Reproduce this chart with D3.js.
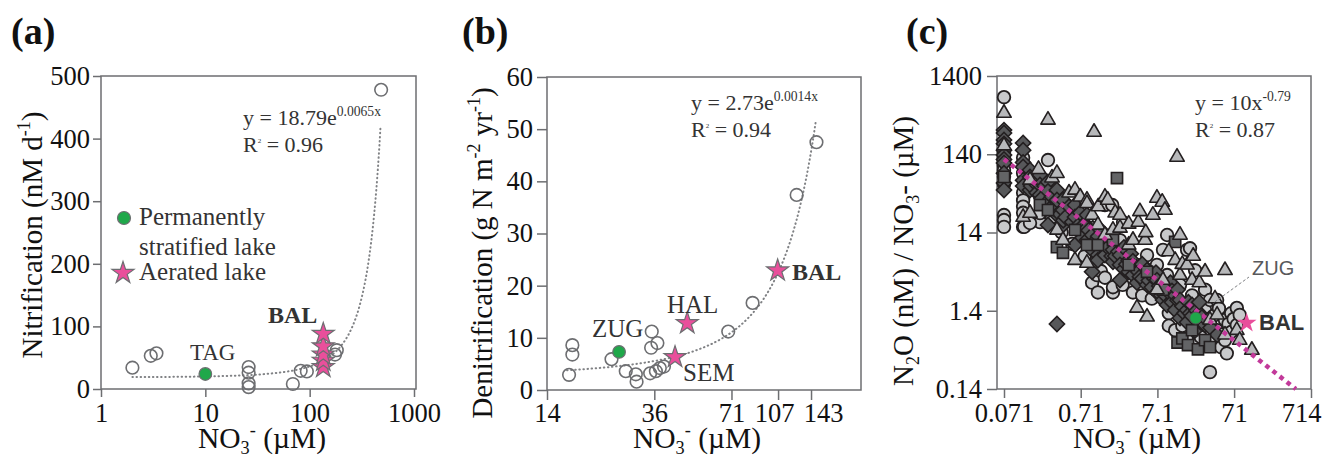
<!DOCTYPE html>
<html>
<head>
<meta charset="utf-8">
<script src="https://cdn.jsdelivr.net/npm/d3@7"></script>
<style>
  body { margin: 0; background: #fff; }
  svg { font-family: "Liberation Serif", "Times New Roman", serif; }
</style>
</head>
<body>
<svg width="1325" height="457"></svg>
<script>
// ---- panel (a): nitrification vs nitrate ----
const aCircles = [[2.0, 34], [3.0, 53], [3.4, 57], [26, 35], [26, 26], [26, 9], [26, 3],
    [69, 8], [82, 29], [94, 28], [175, 55], [182, 62], [484, 478]];
const aTAG = [[10, 24]];
const aBAL = [[135, 35], [135, 45], [135, 55], [135, 68], [135, 88]];
const aFit = { a: 18.79, b: 0.0065, x0: 2, x1: 478 };
const aXTicks = [1, 10, 100, 1000];
const aYTicks = [0, 100, 200, 300, 400, 500];

// ---- panel (b): denitrification vs nitrate ----
const bCircles = [[17.5, 8.6], [17.5, 6.8], [17.0, 2.9], [24.7, 5.9], [28.0, 3.6], [30.6, 3.0],
    [30.8, 1.6], [35.2, 11.2], [35.0, 8.1], [37.0, 9.0], [34.7, 3.2], [36.5, 3.6], [37.8, 4.2],
    [39.2, 4.5], [69.0, 11.2], [85.5, 16.7], [126, 37.4], [150, 47.5]];
const bZUG = [[26.4, 7.3]];
const bStars = [[43.2, 6.3], [48.1, 12.8], [106.6, 22.9]]; // SEM, HAL, BAL
const bFit = { a: 2.73, b: 0.0197, x0: 16.7, x1: 149 };
const bXTicks = [14, 36, 71, 107, 143];
const bYTicks = [0, 10, 20, 30, 40, 50, 60];

// ---- panel (c): N2O/NO3 ratio vs nitrate ----
const cCircles = [[0.071, 750], [0.071, 150], [0.071, 129], [0.071, 100], [0.071, 88], [0.071, 72],
    [0.071, 118], [0.071, 58], [0.071, 23.4], [0.071, 20.2], [0.071, 16.5], [0.126, 126], [0.126, 80],
    [0.126, 45], [0.126, 36], [0.126, 30], [0.126, 25], [0.126, 16.5], [0.13, 16.5], [0.209, 19],
    [0.155, 18.5], [0.209, 24.8], [0.266, 118], [0.266, 31.4], [0.3, 22], [0.348, 42.2], [0.4, 14],
    [0.417, 26], [0.55, 10], [0.598, 27.1], [0.8, 7], [0.857, 19], [1.0, 3.2], [1.0, 16], [1.16, 4.0],
    [1.19, 2.4], [1.3, 4.5], [1.47, 31.4], [1.47, 3.7], [1.87, 2.4], [1.87, 2.8], [1.83, 31.4],
    [2.31, 11.2], [2.5, 3.0], [2.53, 19], [3.0, 7.2], [3.41, 2.4], [3.84, 5.4], [4.5, 2.2], [5.2, 7.2],
    [6, 2.0], [7.0, 5.4], [8.4, 8.4], [9.5, 13], [9.5, 4.0], [10, 1.3], [10, 0.9], [12.1, 0.79],
    [14, 3.0], [15, 0.9], [17.3, 8.4], [17.3, 0.59], [18.9, 8.8], [20.1, 2.2], [22, 4.6], [22, 0.51],
    [25, 0.7], [26, 0.65], [29.7, 2.6], [29.7, 1.43], [34.4, 0.23], [34.4, 1.92], [38, 0.55],
    [38, 1.2], [42.6, 1.92], [42.6, 0.79], [45, 1.5], [48, 0.48], [50, 0.7], [54, 1.07], [54, 0.59],
    [57, 0.40], [60, 0.95], [65, 0.75], [65, 1.3], [70, 1.1], [77, 1.52], [77, 0.92], [84, 1.24]];
const cTriangles = [[0.071, 470], [0.071, 180], [0.126, 22], [0.155, 65.6], [0.155, 24.8], [0.2, 90],
    [0.266, 384], [0.3, 70], [0.348, 80], [0.348, 15.1], [0.417, 11.2], [0.5, 45], [0.598, 48.9],
    [0.598, 6.2], [0.7, 40], [0.857, 36.4], [0.857, 33], [0.857, 5.7], [1.06, 269], [1.0, 23.4],
    [1.19, 17.5], [1.2, 30], [1.47, 39.8], [1.47, 13], [1.6, 36.4], [1.87, 15.1], [2, 25], [2.31, 23.4],
    [2.31, 16], [3, 18], [3.0, 9.7], [3.41, 11.2], [3.84, 1.52], [4.0, 19], [4.2, 26], [4.9, 11.2],
    [5, 14], [5.2, 1.17], [6.2, 23.4], [7.0, 38.6], [7.0, 2.6], [8.2, 34.3], [8.4, 3.45], [8.9, 27.1],
    [10, 8], [12.1, 6.2], [12.8, 129], [14, 4.0], [14, 13], [15, 5.5], [17.3, 5.4], [20.1, 3.45],
    [20.8, 7.0], [25, 3.2], [29.7, 4.4], [34.4, 1.07], [40, 2.0], [42.6, 1.24], [54, 4.6], [54, 0.69],
    [77, 0.79], [84, 0.59], [121, 0.44]];
const cDiamonds = [[0.071, 285], [0.071, 262], [0.071, 213], [0.071, 190], [0.071, 158], [0.071, 137],
    [0.071, 120], [0.071, 108], [0.071, 80], [0.071, 60], [0.071, 49], [0.126, 195], [0.126, 158],
    [0.126, 110], [0.126, 96], [0.126, 65], [0.126, 55], [0.155, 88], [0.155, 72], [0.155, 48.9],
    [0.16, 55], [0.18, 60], [0.19, 45], [0.209, 76], [0.209, 56.6], [0.209, 42.2], [0.22, 38],
    [0.24, 55], [0.25, 33], [0.266, 62], [0.266, 47], [0.266, 17.5], [0.28, 28], [0.3, 40], [0.33, 30],
    [0.348, 48.9], [0.348, 36.4], [0.348, 23.4], [0.348, 0.95], [0.38, 24], [0.417, 36.4],
    [0.417, 27.1], [0.417, 17.5], [0.42, 20], [0.45, 22], [0.5, 30], [0.55, 19], [0.598, 31.4],
    [0.598, 22.1], [0.598, 9.7], [0.65, 17], [0.7, 25], [0.7, 14], [0.75, 12], [0.8, 18],
    [0.857, 23.4], [0.857, 16], [0.857, 11.2], [0.9, 15], [1.0, 13], [1.0, 8.4], [1.0, 4.4], [1.1, 11],
    [1.19, 7.2], [1.19, 6.2], [1.2, 12.5], [1.3, 10], [1.3, 15], [1.4, 9], [1.47, 11.2], [1.47, 7.2],
    [1.6, 9], [1.7, 12], [1.8, 7], [1.87, 8.4], [1.87, 5.9], [2.0, 7], [2.2, 8], [2.31, 7.2], [2.31, 5.4],
    [2.31, 3.45], [2.6, 9], [2.6, 4.8], [2.8, 5.5], [3.0, 6.2], [3.0, 4.4], [3.2, 7.5], [3.4, 6],
    [3.41, 4.0], [3.8, 5], [3.84, 3.2], [4, 4.4], [4.2, 3.8], [4.5, 5.5], [4.5, 3.6], [5.2, 4.6],
    [5.2, 3.0], [5.5, 3.4], [6, 4.2], [6, 2.8], [6.5, 3.6], [6.8, 4.3], [7.0, 3.45], [7.0, 2.4],
    [7.5, 2.9], [8, 2.2], [8.4, 2.6], [8.4, 1.92], [9, 3.0], [9, 2.2], [9.5, 1.66], [10.5, 2.3],
    [10.5, 3.2], [11, 1.8], [11, 2.5], [12.1, 2.2], [12.1, 1.43], [13, 1.9], [13, 2.6], [14, 1.92],
    [14, 1.13], [15, 1.6], [16, 1.3], [17.3, 1.43], [17.3, 1.0], [18, 1.8], [19, 1.3], [20, 1.2],
    [20.1, 1.66], [22, 0.79], [23, 1.4], [25, 1.3], [25, 1.8], [26, 1.0], [27, 1.15], [29.7, 0.92],
    [32, 1.05], [35, 0.85], [42.6, 0.69]];
const cSquares = [[0.071, 72], [0.209, 31.4], [0.266, 27.1], [0.348, 9.1], [0.417, 7.7], [0.598, 15.1],
    [0.857, 9.7], [1.19, 9.7], [1.87, 11.2], [2.11, 69.5], [3.0, 5.4], [5.2, 4.4], [8.4, 2.6],
    [12.1, 10.6], [13, 0.55], [15, 0.62], [17.8, 0.51], [20.1, 0.79], [24, 0.45], [29.7, 0.59],
    [34.4, 0.48]];
const cZUG = [[22.4, 1.13]];
const cBAL = [[103.6, 0.975]];
const cFit = { a: 15.7, b: -0.772, x0: 0.071, x1: 453 };
const cXTicks = [0.071, 0.71, 7.1, 71, 714];
const cYTicks = [0.14, 1.4, 14, 140, 1400];

const svg = d3.select('svg');
const frameColor = '#6d6e71';
const pink = '#e94f9b';
const green = '#1fa84a';

// text with sub/superscripts: parts = [[text, 'n'|'sub'|'sup'], ...]
function rich(text, parts, fs, small) {
    let cur = 0;
    parts.forEach(([t, k]) => {
        const off = k === 'sub' ? fs * 0.22 : k === 'sup' ? -fs * 0.42 : 0;
        text.append('tspan')
            .attr('dy', off - cur)
            .attr('font-size', k === 'n' ? fs : (small || fs * 0.62))
            .text(t);
        cur = off;
    });
}

function frame(box) {
    svg.append('rect')
        .attr('x', box.x).attr('y', box.y)
        .attr('width', box.w).attr('height', box.h)
        .attr('fill', 'none')
        .attr('stroke', frameColor)
        .attr('stroke-width', 1.5);
}

function axes(xScale, yScale, box, xTicks, yTicks, opt) {
    const xAxis = svg.append('g')
        .attr('transform', `translate(0, ${box.y + box.h})`)
        .call(d3.axisBottom(xScale).tickValues(xTicks).tickFormat((d) => d)
            .tickSize(opt.xTick).tickPadding(opt.xPad));
    const yAxis = svg.append('g')
        .attr('transform', `translate(${box.x}, 0)`)
        .call(d3.axisLeft(yScale).tickValues(yTicks).tickFormat((d) => d)
            .tickSize(opt.yTick).tickPadding(opt.yPad));
    [xAxis, yAxis].forEach((g) => {
        g.select('.domain').remove();
        g.selectAll('.tick line').attr('stroke', frameColor).attr('stroke-width', 1.5);
        g.selectAll('.tick text')
            .attr('fill', '#111')
            .attr('font-size', 26.5)
            .attr('font-family', '"Liberation Serif", serif');
    });
    return xAxis;
}

function xTitle(cx) {
    const t = svg.append('text')
        .attr('x', cx).attr('y', 448)
        .attr('text-anchor', 'middle')
        .attr('fill', '#111');
    rich(t, [['NO', 'n'], ['3', 'sub'], ['-', 'sup'], [' (\u00b5M)', 'n']], 29.5);
}

function yTitle(x, cy, parts) {
    const t = svg.append('text')
        .attr('transform', `translate(${x}, ${cy}) rotate(-90)`)
        .attr('text-anchor', 'middle')
        .attr('fill', '#111');
    rich(t, parts, 29);
}

function panelLabel(x, s) {
    svg.append('text')
        .attr('x', x).attr('y', 44)
        .attr('font-size', 38)
        .attr('font-weight', 'bold')
        .attr('fill', '#111')
        .text(s);
}

function equation(x, y, parts, r2) {
    const t = svg.append('text').attr('x', x).attr('y', y).attr('fill', '#333');
    rich(t, parts, 22);
    const r = svg.append('text').attr('x', x).attr('y', y + 27).attr('fill', '#333');
    rich(r, [['R', 'n'], ['2', 'sup'], [' = ' + r2, 'n']], 22, 7);
}

function label(x, y, s, opts = {}) {
    svg.append('text')
        .attr('x', x).attr('y', y)
        .attr('font-size', opts.size || 24)
        .attr('font-weight', opts.bold ? 'bold' : 'normal')
        .attr('font-family', opts.sans ? '"Liberation Sans", Arial, sans-serif' : null)
        .attr('fill', opts.fill || '#333')
        .text(s);
}

const star = (size) => d3.symbol().type(d3.symbolStar).size(size)();

function fitCurve(fn, x0, x1, xScale, yScale, n) {
    const xs = d3.range(n + 1).map((i) => x0 * Math.pow(x1 / x0, i / n));
    return d3.line()
        .x((d) => xScale(d))
        .y((d) => yScale(fn(d)))(xs);
}

function openCircles(data, xs, ys) {
    svg.append('g').selectAll('circle')
        .data(data)
        .enter()
        .append('circle')
        .attr('cx', (d) => xs(d[0]))
        .attr('cy', (d) => ys(d[1]))
        .attr('r', 6.3)
        .attr('fill', 'none')
        .attr('stroke', frameColor)
        .attr('stroke-width', 1.6);
}

function greenDots(data, xs, ys) {
    svg.append('g').selectAll('circle')
        .data(data)
        .enter()
        .append('circle')
        .attr('cx', (d) => xs(d[0]))
        .attr('cy', (d) => ys(d[1]))
        .attr('r', 6.3)
        .attr('fill', green)
        .attr('stroke', frameColor)
        .attr('stroke-width', 1.2);
}

function pinkStars(data, xs, ys) {
    svg.append('g').selectAll('path')
        .data(data)
        .enter()
        .append('path')
        .attr('transform', (d) => `translate(${xs(d[0])}, ${ys(d[1])})`)
        .attr('d', star(150))
        .attr('fill', pink)
        .attr('stroke', frameColor)
        .attr('stroke-width', 1.2);
}

function dottedFit(d) {
    svg.append('path')
        .attr('d', d)
        .attr('fill', 'none')
        .attr('stroke', '#808285')
        .attr('stroke-width', 2)
        .attr('stroke-linecap', 'round')
        .attr('stroke-dasharray', '0.5,3.6');
}

// ===================== panel (a) =====================
const boxA = { x: 101, y: 76, w: 315, h: 313 };
const xA = d3.scaleLog().domain([1, 1000]).range([101, 414]);
const yA = d3.scaleLinear().domain([0, 500]).range([389, 76]);
frame(boxA);
axes(xA, yA, boxA, aXTicks, aYTicks, { xTick: 8, xPad: 6, yTick: 8, yPad: 3 });

dottedFit(fitCurve((x) => aFit.a * Math.exp(aFit.b * x), aFit.x0, aFit.x1, xA, yA, 200));
openCircles(aCircles, xA, yA);
greenDots(aTAG, xA, yA);
pinkStars(aBAL, xA, yA);

label(190, 360, 'TAG', { size: 23 });
label(268, 323, 'BAL', { size: 24, bold: true });
equation(243, 125, [['y = 18.79e', 'n'], ['0.0065x', 'sup']], '0.96');

// legend
svg.append('circle').attr('cx', 124).attr('cy', 218).attr('r', 6.5)
    .attr('fill', green).attr('stroke', frameColor).attr('stroke-width', 1.2);
svg.append('path').attr('transform', 'translate(123, 273)').attr('d', star(150))
    .attr('fill', pink).attr('stroke', frameColor).attr('stroke-width', 1.2);
label(139, 225, 'Permanently', { size: 25 });
label(139, 255, 'stratified lake', { size: 25 });
label(139, 280, 'Aerated lake', { size: 25 });

panelLabel(11, '(a)');
xTitle(262);
yTitle(42, 235, [['Nitrification (nM d', 'n'], ['-1', 'sup'], [')', 'n']]);

// ===================== panel (b) =====================
const boxB = { x: 547, y: 77, w: 314, h: 313 };
const xB = d3.scaleLog().domain([14, 222]).range([547, 861]);
const yB = d3.scaleLinear().domain([0, 60]).range([390, 77]);
frame(boxB);
const xAxisB = axes(xB, yB, boxB, bXTicks, bYTicks, { xTick: 10, xPad: 3, yTick: 10, yPad: 4 });
xAxisB.selectAll('.tick text').filter((d) => d === 107).attr('dx', -4);
xAxisB.selectAll('.tick text').filter((d) => d === 143).attr('dx', 12);

dottedFit(fitCurve((x) => bFit.a * Math.exp(bFit.b * x), bFit.x0, bFit.x1, xB, yB, 200));
openCircles(bCircles, xB, yB);
greenDots(bZUG, xB, yB);
pinkStars(bStars, xB, yB);

label(592, 337, 'ZUG', { size: 25 });
label(667, 313, 'HAL', { size: 25 });
label(683, 381, 'SEM', { size: 25 });
label(792, 280, 'BAL', { size: 24, bold: true });
equation(691, 110, [['y = 2.73e', 'n'], ['0.0014x', 'sup']], '0.94');

panelLabel(462, '(b)');
xTitle(697);
yTitle(492, 253, [['Denitrification (g N m', 'n'], ['-2', 'sup'], [' yr', 'n'], ['-1', 'sup'], [')', 'n']]);

// ===================== panel (c) =====================
const boxC = { x: 997, y: 76, w: 314, h: 313 };
const xC = d3.scaleLog().domain([0.071, 714]).range([1004, 1311]);
const yC = d3.scaleLog().domain([0.14, 1400]).range([389, 76]);
frame(boxC);
const xAxisC = axes(xC, yC, boxC, cXTicks, cYTicks, { xTick: 9, xPad: 5, yTick: 10, yPad: 5 });
xAxisC.selectAll('.tick text').filter((d) => d === 714).attr('dx', -10);

const markStroke = '#231f20';
const cloud = svg.append('g');
cloud.selectAll('circle.c')
    .data(cCircles)
    .enter()
    .append('circle')
    .attr('class', 'c')
    .attr('cx', (d) => xC(d[0]))
    .attr('cy', (d) => yC(d[1]))
    .attr('r', 6.3)
    .attr('fill', '#c8c9cb')
    .attr('stroke', markStroke)
    .attr('stroke-width', 1.8);

cloud.selectAll('path.d')
    .data(cDiamonds)
    .enter()
    .append('path')
    .attr('class', 'd')
    .attr('transform', (d) => `translate(${xC(d[0])}, ${yC(d[1])}) rotate(45)`)
    .attr('d', d3.symbol().type(d3.symbolSquare).size(115)())
    .attr('fill', '#57585a')
    .attr('stroke', markStroke)
    .attr('stroke-width', 1.6);

cloud.selectAll('path.s')
    .data(cSquares)
    .enter()
    .append('path')
    .attr('class', 's')
    .attr('transform', (d) => `translate(${xC(d[0])}, ${yC(d[1])})`)
    .attr('d', d3.symbol().type(d3.symbolSquare).size(125)())
    .attr('fill', '#636466')
    .attr('stroke', markStroke)
    .attr('stroke-width', 1.6);

cloud.selectAll('path.t')
    .data(cTriangles)
    .enter()
    .append('path')
    .attr('class', 't')
    .attr('transform', (d) => `translate(${xC(d[0])}, ${yC(d[1])})`)
    .attr('d', d3.symbol().type(d3.symbolTriangle).size(90)())
    .attr('fill', '#b7b8ba')
    .attr('stroke', markStroke)
    .attr('stroke-width', 1.6)
    .attr('stroke-linejoin', 'round');

svg.append('path')
    .attr('d', fitCurve((x) => cFit.a * Math.pow(x, cFit.b), cFit.x0, cFit.x1, xC, yC, 50))
    .attr('fill', 'none')
    .attr('stroke', '#c2399a')
    .attr('stroke-width', 4.5)
    .attr('stroke-dasharray', '4.5,4.5');

// ZUG leader line
svg.append('line')
    .attr('x1', xC(cZUG[0][0]) + 19).attr('y1', yC(cZUG[0][1]) - 16)
    .attr('x2', 1249).attr('y2', 277)
    .attr('stroke', '#808285')
    .attr('stroke-width', 1)
    .attr('stroke-dasharray', '3,2');

svg.append('g').selectAll('circle')
    .data(cZUG)
    .enter()
    .append('circle')
    .attr('cx', (d) => xC(d[0]))
    .attr('cy', (d) => yC(d[1]))
    .attr('r', 6)
    .attr('fill', green)
    .attr('stroke', '#555')
    .attr('stroke-width', 1);

svg.append('g').selectAll('path')
    .data(cBAL)
    .enter()
    .append('path')
    .attr('transform', (d) => `translate(${xC(d[0])}, ${yC(d[1])})`)
    .attr('d', star(120))
    .attr('fill', pink);

label(1252, 275, 'ZUG', { size: 20, sans: true, fill: '#58595b' });
label(1259, 330, 'BAL', { size: 22, sans: true, bold: true });
equation(1195, 110, [['y = 10x', 'n'], ['-0.79', 'sup']], '0.87');

panelLabel(906, '(c)');
xTitle(1137);
yTitle(913, 251, [['N', 'n'], ['2', 'sub'], ['O (nM) / NO', 'n'], ['3', 'sub'], ['- (\u00b5M)', 'n']]);
</script>
</body>
</html>
